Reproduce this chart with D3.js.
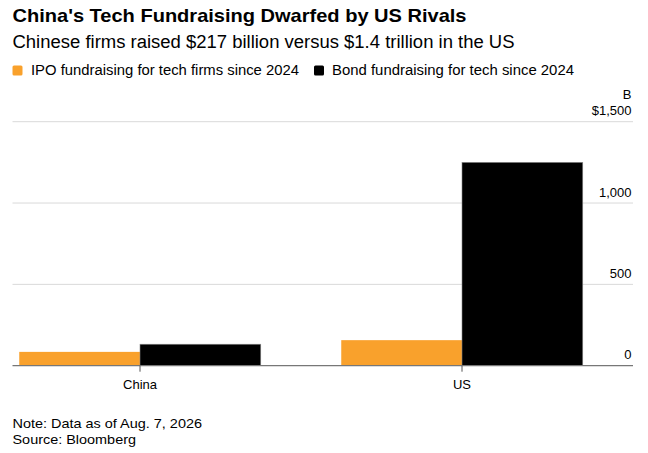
<!DOCTYPE html>
<html><head><meta charset="utf-8">
<script src="https://cdn.jsdelivr.net/npm/d3@7"></script>
<style>
body{margin:0;background:#fff;}
svg{display:block;font-family:"Liberation Sans",Arial,sans-serif;}
</style></head><body>
<svg id="c" width="648" height="453"></svg>
<script>
const categories = ["China", "US"];
const seriesNames = ["IPO fundraising for tech firms since 2024", "Bond fundraising for tech since 2024"];
const ipoValues = [85, 157];
const bondValues = [132, 1250];
const yTicks = [0, 500, 1000, 1500];
const yTickLabels = ["0", "500", "1,000", "$1,500"];
const colors = ["#f9a12c", "#000000"];

const svg = d3.select("#c");
const W = 648, H = 453;
svg.append("rect").attr("width", W).attr("height", H).attr("fill", "#fff");

function fitText(sel, len) { sel.attr("textLength", len).attr("lengthAdjust", "spacingAndGlyphs"); return sel; }

// Title & subtitle
fitText(svg.append("text").attr("x", 12.5).attr("y", 21.7).attr("font-size", 18.5).attr("font-weight", "bold").attr("fill", "#000")
  .text("China's Tech Fundraising Dwarfed by US Rivals"), 454);
fitText(svg.append("text").attr("x", 12.5).attr("y", 48.3).attr("font-size", 18).attr("fill", "#000")
  .text("Chinese firms raised $217 billion versus $1.4 trillion in the US"), 502);

// Legend
const legendItems = [
  {name: seriesNames[0], color: colors[0], sx: 12.5, tx: 31, tw: 268},
  {name: seriesNames[1], color: colors[1], sx: 314, tx: 332, tw: 242}
];
legendItems.forEach(d => {
  svg.append("rect").attr("x", d.sx).attr("y", 65.5).attr("width", 10).attr("height", 10).attr("rx", 1.5).attr("fill", d.color);
  fitText(svg.append("text").attr("x", d.tx).attr("y", 75).attr("font-size", 14).attr("fill", "#000").text(d.name), d.tw);
});

// Scales
const y = d3.scaleLinear().domain([0, 1500]).range([365.7, 121.7]);
const x = d3.scaleBand().domain(categories).range([-21, 623]).paddingInner(0.25).paddingOuter(0.125);
const xs = d3.scaleBand().domain([0, 1]).range([0, x.bandwidth()]);

const plotL = 12.5, plotR = 633;

// Gridlines
svg.append("g").selectAll("line").data(yTicks.filter(t => t > 0)).join("line")
  .attr("x1", plotL).attr("x2", plotR).attr("y1", d => y(d)).attr("y2", d => y(d))
  .attr("stroke", "#d9d9d9").attr("stroke-width", 1);

// Y tick labels
svg.append("g").selectAll("text").data(yTicks).join("text")
  .attr("x", 631.5).attr("y", d => y(d) - 6.5).attr("text-anchor", "end")
  .attr("font-size", 13).attr("fill", "#000").text((d, i) => yTickLabels[i]);
svg.append("text").attr("x", 631.5).attr("y", y(1500) - 22.5).attr("text-anchor", "end")
  .attr("font-size", 13).attr("fill", "#000").text("B");

// Bars
const rows = categories.map((c, i) => ({cat: c, vals: [ipoValues[i], bondValues[i]]}));
const g = svg.append("g");
rows.forEach(r => {
  r.vals.forEach((v, j) => {
    g.append("rect")
      .attr("x", x(r.cat) + xs(j)).attr("width", xs.bandwidth())
      .attr("y", y(v)).attr("height", y(0) - y(v))
      .attr("fill", colors[j])
      .attr("stroke", j === 1 ? "#888" : "none").attr("stroke-width", j === 1 ? 0.6 : 0);
  });
});

// Baseline axis
svg.append("line").attr("x1", plotL).attr("x2", plotR).attr("y1", y(0)).attr("y2", y(0))
  .attr("stroke", "#777").attr("stroke-width", 1.2);

// X axis ticks & labels
const xAxis = svg.append("g").attr("transform", `translate(0,${y(0)})`)
  .call(d3.axisBottom(x).tickSize(6).tickPadding(8).tickSizeOuter(0));
xAxis.select(".domain").remove();
xAxis.selectAll(".tick line").attr("stroke", "#555");
xAxis.selectAll(".tick text").attr("font-size", 13).attr("fill", "#000")
  .attr("font-family", '"Liberation Sans",Arial,sans-serif').attr("dy", "0.71em");

// Footer
fitText(svg.append("text").attr("x", 12.5).attr("y", 428.3).attr("font-size", 13.5).attr("fill", "#000")
  .text("Note: Data as of Aug. 7, 2026"), 189.5);
fitText(svg.append("text").attr("x", 12.5).attr("y", 444.3).attr("font-size", 13.5).attr("fill", "#000")
  .text("Source: Bloomberg"), 123.5);
</script>
</body></html>
